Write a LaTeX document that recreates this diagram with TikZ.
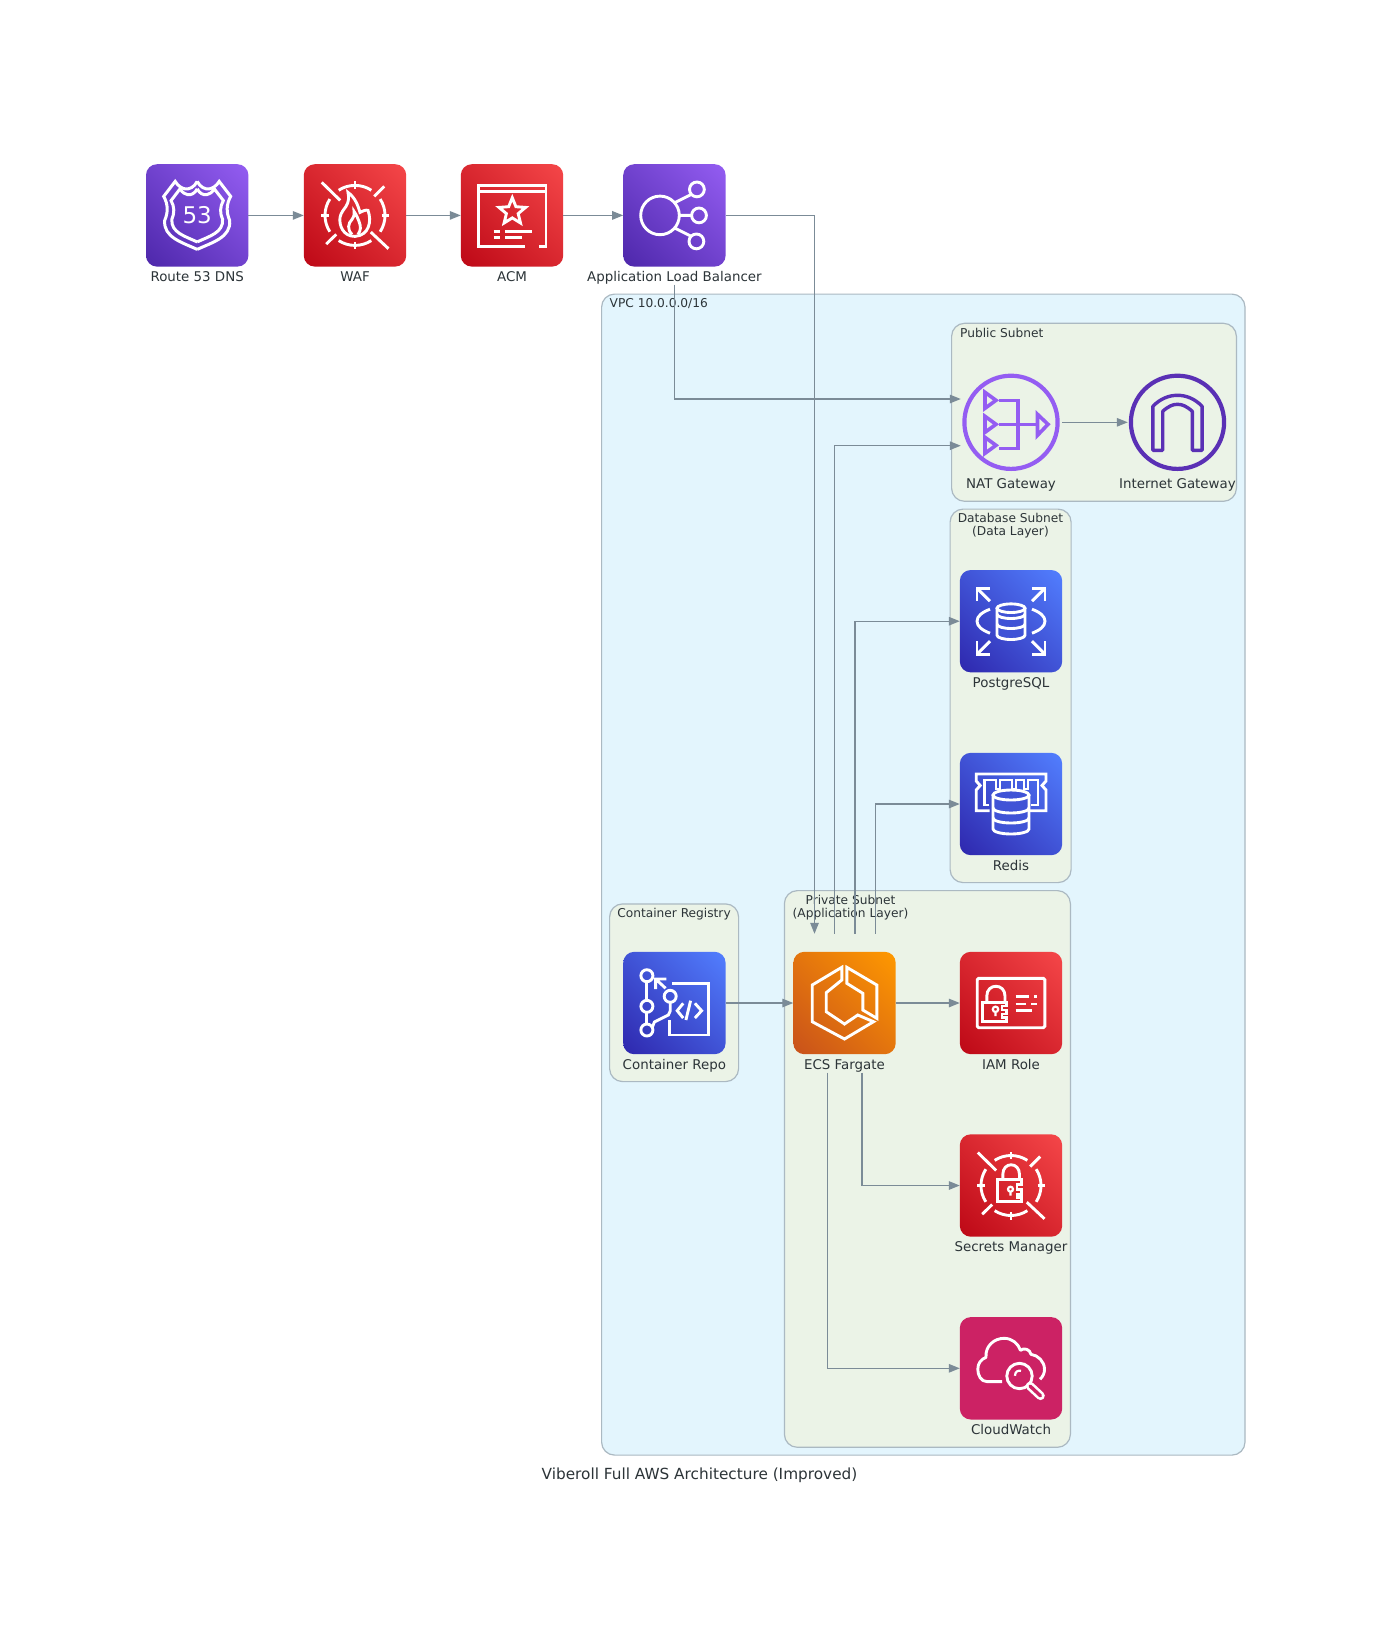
\documentclass[tikz,border=0pt]{standalone}
\usepackage{fontspec}
\setmainfont{DejaVu Sans}
\usetikzlibrary{arrows.meta,calc,shadings}
\definecolor{edgec}{HTML}{7B8B97}
\definecolor{vpcc}{HTML}{E3F5FD}
\definecolor{subc}{HTML}{EBF3E7}
\definecolor{bordc}{HTML}{ABB9C2}
\definecolor{txtc}{HTML}{2C3438}
\definecolor{purA}{HTML}{4D27AA}\definecolor{purB}{HTML}{945DF2}
\definecolor{redA}{HTML}{BD0816}\definecolor{redB}{HTML}{F54749}
\definecolor{bluA}{HTML}{2E27AD}\definecolor{bluB}{HTML}{527FFF}
\definecolor{oraA}{HTML}{C8511B}\definecolor{oraB}{HTML}{FF9900}
\definecolor{pnkc}{HTML}{CC2264}
\definecolor{natc}{HTML}{945DF2}
\definecolor{igwc}{HTML}{5A30B5}
\newcommand{\ringmark}{%
  \foreach \a in {0,90,180,270}{
    \draw[glyph] (\a-33:30) arc[start angle=\a-33,end angle=\a+33,radius=30];
    \draw[glyph] (\a:26.5) -- (\a:34);
  }
  \draw[glyph] (-33.2,-33) -- (-14.8,-15);
  \draw[glyph] (15.8,16.7) -- (33.5,33.3);
  \draw[glyph] (19.2,-19) -- (29.2,-29);
  \draw[glyph] (-28.8,28.7) -- (-18.8,19);
}
% cylinder: cx, top centre y, half width, ry, bottom centre y, band1, band2, fill
\newcommand{\dbcyl}[8]{%
  \draw[glyph,fill=#8] (#1-#3,#2) -- (#1-#3,#5) arc[start angle=180,end angle=0,x radius=#3,y radius=#4] -- (#1+#3,#2);
  \draw[glyph,fill=#8] (#1,#2) ellipse[x radius=#3,y radius=#4];
  \draw[glyph] (#1-#3,#6) arc[start angle=180,end angle=0,x radius=#3,y radius=#4];
  \draw[glyph] (#1-#3,#7) arc[start angle=180,end angle=0,x radius=#3,y radius=#4];
}
\tikzset{
  x=1pt,y=-1pt,
  glyph/.style={draw=white,line width=2.9pt,line join=miter},
  icon/.style 2 args={rectangle,rounded corners=11pt,minimum width=102.4pt,minimum height=102.4pt,
    inner sep=0pt,outer sep=0pt,lower left=#1,upper right=#2,upper left=#1!50!#2,lower right=#1!50!#2},
  flaticon/.style={rectangle,rounded corners=11pt,minimum width=102.4pt,minimum height=102.4pt,
    inner sep=0pt,outer sep=0pt,fill=#1},
  gwicon/.style={circle,minimum size=102.4pt,inner sep=0pt,outer sep=0pt},
  lab/.style={anchor=base,font=\fontsize{13.4}{15}\selectfont,text=txtc,inner sep=0pt},
  grplab/.style={font=\fontsize{12.2}{13.4}\selectfont,text=txtc,inner sep=0pt,align=center},
  vpcbox/.style={draw=bordc,line width=1.2pt,fill=vpcc,rounded corners=13pt},
  subbox/.style={draw=bordc,line width=1.2pt,fill=subc,rounded corners=13pt},
  conn/.style={draw=edgec,line width=1.3pt,-{Triangle[length=11pt,width=8.5pt]}},
  r53pic/.pic={
    \foreach \s in {1,-1}{
      \begin{scope}[xscale=\s]
        \draw[glyph,line width=3pt] (0,-34) .. controls (-3,-28) and (-8,-26) .. (-12,-26.5) .. controls (-15,-27) and (-19,-29) .. (-22,-34) -- (-33.5,-19)
          .. controls (-29,-11) and (-29,-3) .. (-32.5,5) .. controls (-34,22) and (-15,27) .. (0,34);
        \draw[glyph,line width=3pt,scale=.78] (0,-34) .. controls (-3,-28) and (-8,-26) .. (-12,-26.5) .. controls (-15,-27) and (-19,-29) .. (-22,-34) -- (-33.5,-19)
          .. controls (-29,-11) and (-29,-3) .. (-32.5,5) .. controls (-34,22) and (-15,27) .. (0,34);
      \end{scope}
    }
    \node[text=white,font=\fontsize{23}{25}\selectfont,inner sep=0pt] (r53num) at (0,0) {53};
  },
  wafpic/.pic={
    \ringmark
    \draw[glyph] (-7,-23) .. controls (0,-18) and (3,-10) .. (5,-3) .. controls (7,-4) and (11,-6) .. (13,-5)
      .. controls (17,6) and (14,20) .. (0,21) .. controls (-12,21) and (-16,10) .. (-15,2)
      .. controls (-14,-3) and (-11,-6) .. (-9,-9) .. controls (-6,-14) and (-6,-18) .. (-7,-23) -- cycle;
    \draw[glyph] (-3,19) .. controls (-8,14) and (-7,8) .. (-3,4) .. controls (-1,1) and (0,-2) .. (-1,-4)
      .. controls (2,0) and (3,4) .. (4,6) .. controls (6,11) and (6,15) .. (3,19);
  },
  acmpic/.pic={
    \draw[glyph] (12.5,30.7) -- (-33.5,30.7) -- (-33.5,-30.3) -- (34,-30.3) -- (34,30.7) -- (26.5,30.7);
    \draw[glyph] (-33.5,-23.7) -- (34,-23.7);
    \begin{scope}[shift={(0.3,-3.7)}]
      \draw[glyph] (0,-14) -- (3.6,-5) -- (13.3,-4.3) -- (5.9,1.9) -- (8.2,11.3) -- (0,6.2) -- (-8.2,11.3)
        -- (-5.9,1.9) -- (-13.3,-4.3) -- (-3.6,-5) -- cycle;
    \end{scope}
    \draw[glyph] (-18.5,15.7) -- (-12.5,15.7) (-7,15.7) -- (20,15.7)
      (-18.5,22) -- (-12.5,22) (-7,22) -- (10,22);
  },
  albpic/.pic={
    \draw[glyph] (-14.4,0) circle[radius=19.3];
    \draw[glyph] (22.5,-26) circle[radius=7.4] (24.6,0) circle[radius=7.4] (22,26) circle[radius=7.4];
    \draw[glyph] (0,-12.5) -- (17,-21) (4.8,0) -- (17.2,0) (0,12.5) -- (17,21);
  },
  natpic/.pic={
    \draw[draw=natc,line width=4.2pt] (0,0) circle[radius=46.6];
    \foreach \yy in {-22,2,23}{
      \draw[draw=natc,line width=3.6pt] (-26,\yy-8) -- (-15,\yy) -- (-26,\yy+8) -- cycle;
    }
    \draw[draw=natc,line width=3.6pt] (-12,-22) -- (7,-22) -- (7,26) -- (-12,26)
      (-12,2) -- (26,2);
    \draw[draw=natc,line width=3.6pt] (26.5,-8) -- (37,2) -- (26.5,13) -- cycle;
  },
  igwpic/.pic={
    \draw[draw=igwc,line width=4.2pt] (0,0) circle[radius=46.6];
    \draw[draw=igwc,line width=3.4pt,line join=round] (-24.6,28) -- (-24.6,-16) .. controls (-17,-24) and (-8,-27) .. (0,-27)
      .. controls (8,-27) and (17,-24) .. (24.6,-16) -- (24.6,28) -- (14.8,28) -- (14.8,-11)
      .. controls (9,-16) and (5,-18) .. (0,-18) .. controls (-5,-18) and (-9,-16) .. (-14.8,-11) -- (-14.8,28) -- cycle;
  },
  pgpic/.pic={
    \foreach \sx/\sy in {1/1,-1/1,1/-1,-1/-1}{
      \begin{scope}[xscale=\sx,yscale=\sy]
        \draw[glyph] (-34,-20) -- (-34,-33) -- (-21,-33);
        \draw[glyph] (-34,-33) -- (-21,-20);
      \end{scope}
    }
    \foreach \sx in {1,-1}{
      \begin{scope}[xscale=\sx]
        \draw[glyph] (-21,-12) .. controls (-29,-9) and (-34,-5) .. (-34,0) .. controls (-34,5) and (-29,9) .. (-21,12);
      \end{scope}
    }
    \dbcyl{0}{-13}{14}{4.3}{14}{-7}{3}{bluA!50!bluB}
  },
  redispic/.pic={
    \draw[glyph] (-21.5,6.7) -- (-34.8,6.7) -- (-34.8,-14) -- (-30.8,-18.5) -- (-34.8,-23) -- (-34.8,-30)
      -- (35,-30) -- (35,-23) -- (31,-18.5) -- (35,-14) -- (35,6.7) -- (19,6.7);
    \draw[glyph] (-22,1) -- (-26.5,1) -- (-26.5,-24) -- (-15,-24) -- (-15,-15) -- (-11,-15) -- (-11,-24)
      -- (1,-24) -- (1,-15) -- (5,-15) -- (5,-24) -- (13,-24) -- (13,-15) -- (17,-15) -- (17,-24)
      -- (27,-24) -- (27,1) -- (20,1);
    \dbcyl{0}{-9}{18}{5}{25}{4}{14}{bluA!50!bluB}
  },
  repopic/.pic={
    \draw[glyph] (-27.5,-27.3) circle[radius=6] (-27.5,3.3) circle[radius=6] (-27.5,27) circle[radius=6] (-4.2,-6.7) circle[radius=6];
    \draw[glyph] (-27.5,-21.3) -- (-27.5,-2.7) (-27.5,9.3) -- (-27.5,21);
    \draw[glyph] (-22,24) -- (-20,19) -- (-6,12) -- (-4.2,8) -- (-4.2,-.7);
    \draw[glyph] (-8.8,-14.7) -- (-18.8,-24) (-18.8,-14) -- (-18.8,-24) -- (-8,-24);
    \draw[glyph] (-2.5,-19.7) -- (33.8,-19.7) -- (33.8,32) -- (-4.5,32) -- (-4.5,17);
    \draw[glyph] (8.8,.3) -- (2.8,7.7) -- (8.8,15) (20.5,.3) -- (27.2,7.7) -- (20.5,15) (16.2,-2.3) -- (11.5,17);
  },
  ecspic/.pic={
    \draw[glyph] (-2.7,-35.7) -- (-2.7,-23) -- (-18.3,-10.3) -- (-18.3,8.7) -- (0,21) -- (13.3,12) -- (29,18.7)
      -- (0,36) -- (-32.3,18.7) -- (-32.3,-18) -- cycle;
    \draw[glyph] (2.3,-35.7) -- (32.3,-18) -- (32.3,15.3) -- (18.3,7) -- (18.3,-9.7) -- (2.3,-19.7) -- cycle;
  },
  iampic/.pic={
    \draw[glyph,rounded corners=1.5pt] (-33.8,-24.7) rectangle (33.8,24.7);
    \draw[glyph] (-28.2,-.3) -- (-4.8,-.3) -- (-4.8,3) -- (-9,3) -- (-9,7) -- (-4.8,7) -- (-4.8,11) -- (-9,11) -- (-9,14.5) -- (-4.8,14.5) -- (-4.8,18.7) -- (-28.2,18.7) -- cycle;
    \draw[glyph] (-24.2,-.3) -- (-24.2,-7) .. controls (-24.2,-20) and (-6,-20) .. (-6,-7) -- (-6,-.3);
    \draw[glyph,line width=2.2pt] (-15.5,6.3) circle[radius=2.7] (-15.5,9) -- (-15.5,13);
    \draw[glyph] (4.5,-6.3) -- (17.8,-6.3) (23,-6.3) -- (26,-6.3) (4.5,1) -- (15.2,1) (20.2,1) -- (26,1) (4.5,7.7) -- (21.2,7.7);
  },
  secpic/.pic={
    \ringmark
    \draw[glyph] (-13.2,-5.7) -- (10.8,-5.7) -- (10.8,-1) -- (6,-1) -- (6,4) -- (10.8,4) -- (10.8,9) -- (6,9) -- (6,12) -- (10.8,12) -- (10.8,16) -- (-13.2,16) -- cycle;
    \draw[glyph] (-8.2,-5.7) -- (-8.2,-11) .. controls (-8.2,-24) and (8.5,-24) .. (8.5,-11) -- (8.5,-5.7);
    \draw[glyph,line width=2.2pt] (-.5,3.7) circle[radius=2.5] (-.5,6.2) -- (-.5,10);
  },
  cwpic/.pic={
    \draw[glyph,line join=round] (-8.8,13.3) -- (-24,13.3) .. controls (-30,13.3) and (-33.2,7) .. (-33.2,1)
      .. controls (-33.2,-5) and (-30,-9) .. (-25,-11) .. controls (-26,-23) and (-16,-30) .. (-7,-30)
      .. controls (1,-30) and (7,-25) .. (9.5,-18) .. controls (13,-21) and (19,-19) .. (20,-14)
      .. controls (27,-13) and (33.5,-7) .. (33.5,1) .. controls (33.5,5) and (32,8) .. (29,11);
    \draw[glyph,fill=pnkc] (8.5,7.7) circle[radius=12.7];
    \draw[glyph,line width=2.2pt] (4,7.5) .. controls (4,3) and (7,2) .. (10,2.5);
    \draw[white,line width=8.6pt,line cap=round] (19,17.7) -- (29.5,27.5);
    \draw[pnkc,line width=3.4pt,line cap=round] (19,17.7) -- (29.5,27.5);
  },
}
\begin{document}
\begin{tikzpicture}
\useasboundingbox[fill=white] (0,0) rectangle (1400,1634);
% groups
\node[vpcbox,minimum width=643.4pt,minimum height=1161pt,inner sep=0pt,anchor=north west] (vpc) at (601,293.5) {};
\node[subbox,minimum width=284.8pt,minimum height=178pt,inner sep=0pt,anchor=north west] (pub) at (951,322.7) {};
\node[subbox,minimum width=121pt,minimum height=373.5pt,inner sep=0pt,anchor=north west] (dbs) at (949.5,508.5) {};
\node[subbox,minimum width=129pt,minimum height=177.7pt,inner sep=0pt,anchor=north west] (reg) at (609,903.3) {};
\node[subbox,minimum width=286pt,minimum height=556.7pt,inner sep=0pt,anchor=north west] (prv) at (783.8,890) {};
\node[grplab,anchor=west] (vpct) at (609.5,304) {VPC 10.0.0.0/16};
\node[grplab,anchor=west] (pubt) at (960,333) {Public Subnet};
\node[grplab] (dbst) at (1010.5,525.5) {Database Subnet\\(Data Layer)};
\node[grplab] (regt) at (674,914.5) {Container Registry};
\node[grplab] (prvt) at (850.5,907.5) {Private Subnet\\(Application Layer)};
% icons
\node[icon={purA}{purB}] (r53) at (197.2,215.4) {};
\node[icon={redA}{redB}] (waf) at (355,215.4) {};
\node[icon={redA}{redB}] (acm) at (512,215.4) {};
\node[icon={purA}{purB}] (alb) at (674.4,215.4) {};
\node[gwicon] (nat) at (1011,422.3) {};
\node[gwicon] (igw) at (1177.5,422.3) {};
\node[icon={bluA}{bluB}] (pg) at (1011,621.2) {};
\node[icon={bluA}{bluB}] (red) at (1011,804) {};
\node[icon={bluA}{bluB}] (repo) at (674.4,1003) {};
\node[icon={oraA}{oraB}] (ecs) at (844.5,1003) {};
\node[icon={redA}{redB}] (iam) at (1011,1003) {};
\node[icon={redA}{redB}] (sec) at (1011,1185.5) {};
\node[flaticon=pnkc] (cw) at (1011,1368.3) {};
% glyphs
\pic at (r53) {r53pic};
\pic at (waf) {wafpic};
\pic at (acm) {acmpic};
\pic at (alb) {albpic};
\pic at (nat) {natpic};
\pic at (igw) {igwpic};
\pic at (pg) {pgpic};
\pic at (red) {redispic};
\pic at (repo) {repopic};
\pic at (ecs) {ecspic};
\pic at (iam) {iampic};
\pic at (sec) {secpic};
\pic at (cw) {cwpic};
% labels
\foreach \n/\t in {r53/Route 53 DNS,waf/WAF,acm/ACM,alb/Application Load Balancer,pg/PostgreSQL,red/Redis,repo/Container Repo,ecs/ECS Fargate,iam/IAM Role,sec/Secrets Manager,cw/CloudWatch,nat/NAT Gateway,igw/Internet Gateway}{
  \node[lab] (\n-t) at ([yshift=-15pt]\n.south) {\t};
}
% connectors
\draw[conn] (r53) -- (waf);
\draw[conn] (waf) -- (acm);
\draw[conn] (acm) -- (alb);
\draw[conn] (alb.east) -| ([xshift=-30pt,yshift=18pt]ecs.north);
\draw[conn] ([yshift=-18pt]alb.south) |- ([xshift=1pt,yshift=23.3pt]nat.west);
\draw[conn] (nat.east) -- ([xshift=1.5pt]igw.west);
\draw[conn] ([xshift=-9.7pt,yshift=18pt]ecs.north) |- ([xshift=1pt,yshift=-23.4pt]nat.west);
\draw[conn] ([xshift=10.5pt,yshift=18pt]ecs.north) |- (pg.west);
\draw[conn] ([xshift=30.7pt,yshift=18pt]ecs.north) |- (red.west);
\draw[conn] (repo) -- (ecs);
\draw[conn] (ecs) -- (iam);
\draw[conn] ([xshift=17.5pt,yshift=-18.5pt]ecs.south) |- (sec.west);
\draw[conn] ([xshift=-17.2pt,yshift=-18.5pt]ecs.south) |- (cw.west);
\node[font=\fontsize{15.3}{17}\selectfont,text=txtc,inner sep=0pt] (title) at (699.5,1475.5) {Viberoll Full AWS Architecture (Improved)};
\end{tikzpicture}
\end{document}
